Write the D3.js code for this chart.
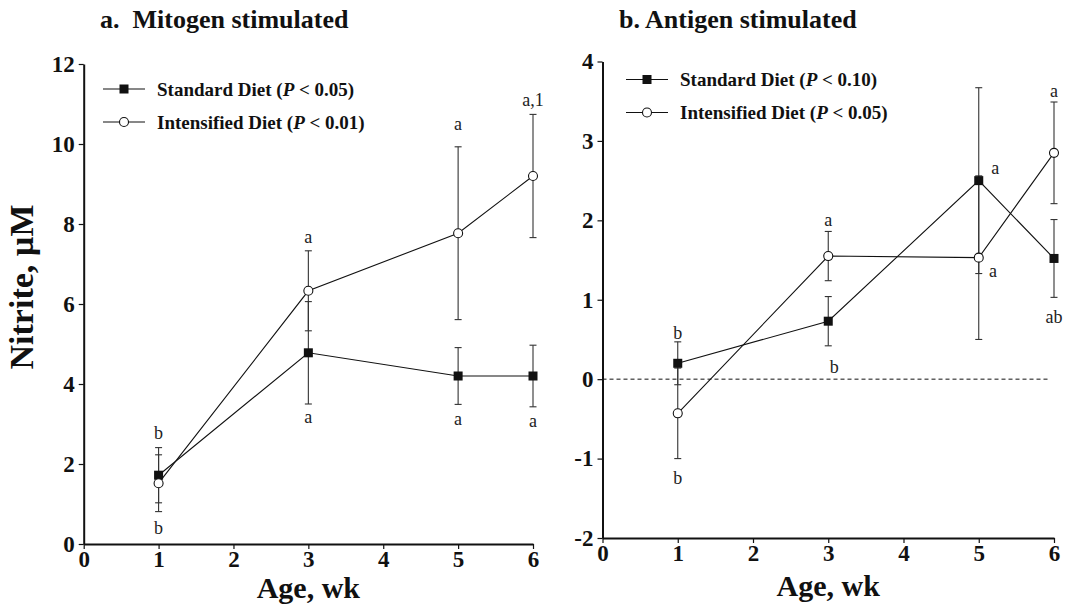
<!DOCTYPE html>
<html lang="en">
<head>
<meta charset="UTF-8">
<title>Nitrite by age</title>
<script src="https://d3js.org/d3.v7.min.js"></script>
<style>
  body { margin: 0; background: #fff; }
  svg { font-family: "Liberation Serif", "Times New Roman", serif; }
  .tick text { font-family: "Liberation Serif", "Times New Roman", serif; font-weight: bold; font-size: 23px; fill: #111; }
  .domain { stroke: #111; stroke-width: 2px; }
  .tick line { stroke: #111; stroke-width: 1.2px; }
</style>
</head>
<body>
<script>
const weeks = [1, 3, 5, 6];

// a. mitogen stimulated
const mitoStd = [1.72, 4.78, 4.2, 4.2];
const mitoStdErr = [0.69, 1.28, 0.71, 0.77];
const mitoInt = [1.52, 6.33, 7.77, 9.2];
const mitoIntErr = [0.71, 1.0, 2.16, 1.54];

// b. antigen stimulated
const antiStd = [0.2, 0.73, 2.5, 1.52];
const antiStdErr = [0.27, 0.31, 1.17, 0.49];
const antiInt = [-0.43, 1.55, 1.53, 2.85];
const antiIntErr = [0.57, 0.31, 1.03, 0.64];

const ticksX = [0, 1, 2, 3, 4, 5, 6];
const mitoTicksY = [0, 2, 4, 6, 8, 10, 12];
const antiTicksY = [-2, -1, 0, 1, 2, 3, 4];

// significance letters: [week, value, text]
const mitoLetters = [[1, 2.78, "b"], [1, 0.42, "b"], [3, 7.68, "a"], [3, 3.18, "a"],
  [5, 10.52, "a"], [5, 3.14, "a"], [6, 11.1, "a,1"], [6, 3.08, "a"]];
const antiLetters = [[1, 0.58, "b"], [1, -1.24, "b"], [3, 2.01, "a"], [3.08, 0.16, "b"],
  [5.22, 2.66, "a"], [5.19, 1.36, "a"], [6, 3.63, "a"], [6, 0.79, "ab"]];

const mitoLegend = ["Standard Diet (", " < 0.05)", "Intensified Diet (", " < 0.01)"];
const antiLegend = ["Standard Diet (", " < 0.10)", "Intensified Diet (", " < 0.05)"];

const svg = d3.select("body").append("svg")
  .attr("width", 1070)
  .attr("height", 609);

function panel(o) {
  const x = d3.scaleLinear().domain([0, 6]).range(o.xr);
  const y = d3.scaleLinear().domain(o.yd).range(o.yr);
  const g = svg.append("g");

  g.append("g")
    .attr("transform", "translate(0," + o.yr[0] + ")")
    .call(d3.axisBottom(x).tickValues(ticksX).tickFormat(d3.format("d"))
      .tickSize(5).tickSizeOuter(0).tickPadding(2));
  g.append("g")
    .attr("transform", "translate(" + o.xr[0] + ",0)")
    .call(d3.axisLeft(y).tickValues(o.ticksY).tickFormat(d => d < 0 ? "-" + (-d) : d)
      .tickSize(5).tickSizeOuter(0).tickPadding(4));

  if (o.zero) {
    g.append("line")
      .attr("x1", o.xr[0]).attr("x2", o.xr[1] - 4)
      .attr("y1", y(0)).attr("y2", y(0))
      .attr("stroke", "#111").attr("stroke-dasharray", "4,3").attr("stroke-width", 1);
  }

  const series = [
    { m: o.std, e: o.stdErr, filled: true },
    { m: o.int, e: o.intErr, filled: false }
  ];

  // error bars
  series.forEach(s => {
    const eb = g.append("g").attr("stroke", "#333").attr("stroke-width", 1.1);
    weeks.forEach((w, i) => {
      const cx = x(w), lo = y(s.m[i] - s.e[i]), hi = y(s.m[i] + s.e[i]);
      eb.append("line").attr("x1", cx).attr("x2", cx).attr("y1", lo).attr("y2", hi);
      eb.append("line").attr("x1", cx - 3.5).attr("x2", cx + 3.5).attr("y1", lo).attr("y2", lo);
      eb.append("line").attr("x1", cx - 3.5).attr("x2", cx + 3.5).attr("y1", hi).attr("y2", hi);
    });
  });

  const line = d3.line().x((d, i) => x(weeks[i])).y(d => y(d));
  series.forEach(s => {
    g.append("path").attr("d", line(s.m))
      .attr("fill", "none").attr("stroke", "#111").attr("stroke-width", 1.1);
  });

  series.forEach(s => {
    weeks.forEach((w, i) => {
      if (s.filled) {
        g.append("rect").attr("x", x(w) - 4.5).attr("y", y(s.m[i]) - 4.5)
          .attr("width", 9).attr("height", 9).attr("fill", "#111");
      } else {
        g.append("circle").attr("cx", x(w)).attr("cy", y(s.m[i])).attr("r", 4.5)
          .attr("fill", "#fff").attr("stroke", "#111").attr("stroke-width", 1.1);
      }
    });
  });

  g.selectAll(".lab").data(o.letters).enter().append("text")
    .attr("x", d => x(d[0])).attr("y", d => y(d[1]))
    .attr("dy", "0.35em").attr("text-anchor", "middle")
    .attr("font-size", 18).attr("fill", "#222")
    .text(d => d[2]);

  // title
  g.append("text").attr("x", o.title[1]).attr("y", 28)
    .attr("font-size", 26).attr("font-weight", "bold").attr("fill", "#111")
    .attr("xml:space", "preserve")
    .text(o.title[0]);

  // legend
  [0, 1].forEach(k => {
    const ly = o.leg.y[k];
    g.append("line").attr("x1", o.leg.x).attr("x2", o.leg.x + 42)
      .attr("y1", ly).attr("y2", ly).attr("stroke", "#111").attr("stroke-width", 1.1);
    if (k === 0) {
      g.append("rect").attr("x", o.leg.x + 21 - 4.5).attr("y", ly - 4.5)
        .attr("width", 9).attr("height", 9).attr("fill", "#111");
    } else {
      g.append("circle").attr("cx", o.leg.x + 21).attr("cy", ly).attr("r", 4.5)
        .attr("fill", "#fff").attr("stroke", "#111").attr("stroke-width", 1.1);
    }
    const t = g.append("text").attr("x", o.leg.x + 54).attr("y", ly + 6.5)
      .attr("font-size", 19).attr("font-weight", "bold").attr("fill", "#111");
    t.append("tspan").text(o.legend[k * 2]);
    t.append("tspan").attr("font-style", "italic").text("P");
    t.append("tspan").text(o.legend[k * 2 + 1]);
  });

  g.append("text").attr("x", x(3)).attr("y", o.xlab)
    .attr("text-anchor", "middle").attr("font-size", 30).attr("font-weight", "bold")
    .attr("fill", "#111").text("Age, wk");
}

panel({
  xr: [83.7, 533], yr: [544, 64], yd: [0, 12], ticksY: mitoTicksY,
  std: mitoStd, stdErr: mitoStdErr, int: mitoInt, intErr: mitoIntErr,
  letters: mitoLetters, legend: mitoLegend,
  title: ["a.  Mitogen stimulated", 100],
  leg: { x: 103, y: [89, 122] }, xlab: 598, zero: false
});

panel({
  xr: [602.5, 1054], yr: [538, 61.5], yd: [-2, 4], ticksY: antiTicksY,
  std: antiStd, stdErr: antiStdErr, int: antiInt, intErr: antiIntErr,
  letters: antiLetters, legend: antiLegend,
  title: ["b. Antigen stimulated", 619],
  leg: { x: 626, y: [79.5, 112.5] }, xlab: 596, zero: true
});

svg.append("text")
  .attr("transform", "translate(33,287) rotate(-90)")
  .attr("text-anchor", "middle").attr("font-size", 34).attr("font-weight", "bold")
  .attr("fill", "#111").text("Nitrite, µM");
</script>
</body>
</html>
